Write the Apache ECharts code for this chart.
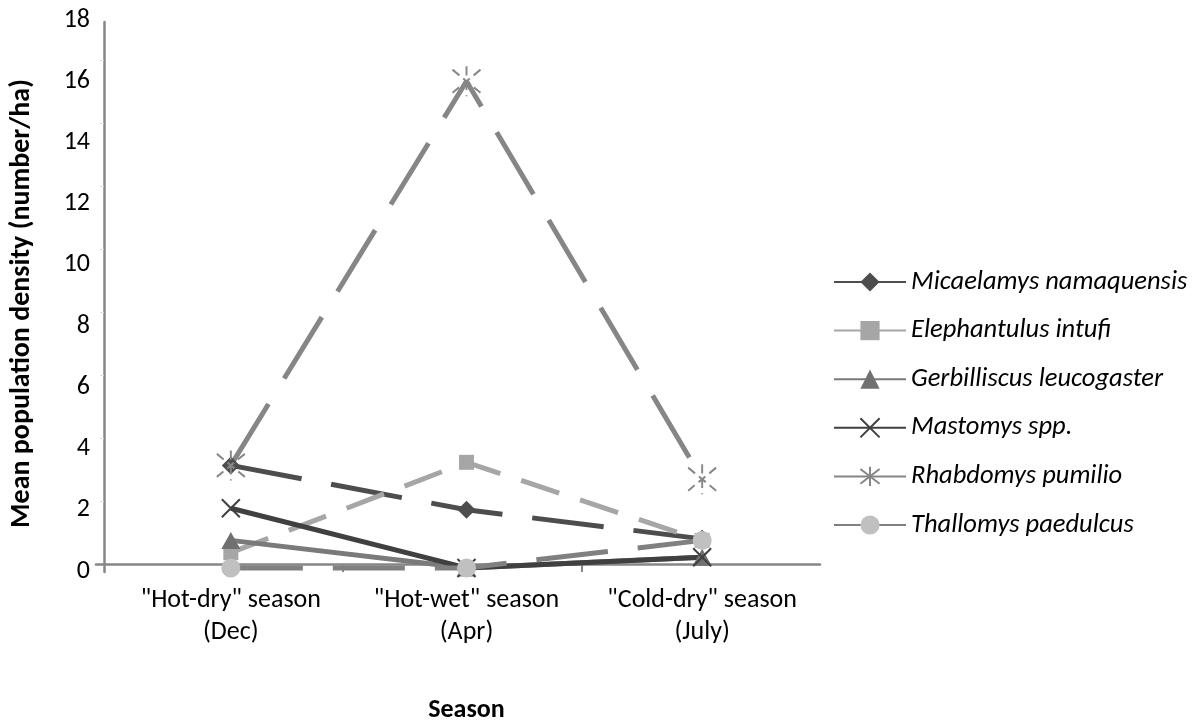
<!DOCTYPE html>
<html>
<head>
<meta charset="utf-8">
<script src="https://cdn.jsdelivr.net/npm/echarts@6/dist/echarts.min.js"></script>
<style>
  html, body { margin: 0; padding: 0; background: #ffffff; }
  #chart { width: 1201px; height: 728px; }
</style>
</head>
<body>
<div id="chart"></div>
<script>
// Seasons sampled (category axis)
const seasons = ['"Hot-dry" season\n(Dec)', '"Hot-wet" season\n(Apr)', '"Cold-dry" season\n(July)'];

// Mean population density (number/ha) per species and season
const micaelamys   = [3.45, 2.0, 1.05];
const elephantulus = [0.6, 3.55, 1.0];
const gerbilliscus = [1.0, 0.1, 0.45];
const mastomys     = [2.05, 0.1, 0.45];
const rhabdomys    = [3.45, 16.0, 3.0];
const thallomys    = [0.1, 0.1, 1.0];

const speciesNames = [
  'Micaelamys namaquensis',
  'Elephantulus intufi',
  'Gerbilliscus leucogaster',
  'Mastomys spp.',
  'Rhabdomys pumilio',
  'Thallomys paedulcus'
];

// Value axis range
const yMin = 0, yMax = 18, yStep = 2;

const FONT = 'Carlito, Calibri, Lato, "Open Sans", sans-serif';
const AXIS_GREY = '#868686';

const crossMark = 'path://M0,0L10,10M10,0L0,10';
const starMark  = 'path://M0,0L10,10M10,0L0,10M5,-1.5L5,11.5';

function lineSeries(name, data, opt) {
  return {
    name: name,
    type: 'line',
    xAxisIndex: 0,
    yAxisIndex: 0,
    data: data,
    symbol: opt.symbol,
    symbolSize: opt.size,
    showAllSymbol: true,
    lineStyle: { color: opt.line, width: 5, type: opt.dash || 'solid', cap: 'butt' },
    itemStyle: opt.item,
    emphasis: { disabled: true },
    animation: false
  };
}

const series = [
  lineSeries(speciesNames[0], micaelamys, {
    symbol: 'diamond', size: 18, line: '#4d4d4d', dash: [72, 30],
    item: { color: '#4d4d4d' }
  }),
  lineSeries(speciesNames[1], elephantulus, {
    symbol: 'rect', size: 15, line: '#a6a6a6', dash: [40, 22],
    item: { color: '#a6a6a6' }
  }),
  lineSeries(speciesNames[2], gerbilliscus, {
    symbol: 'triangle', size: [19, 17], line: '#7a7a7a',
    item: { color: '#707070' }
  }),
  lineSeries(speciesNames[3], mastomys, {
    symbol: crossMark, size: 18, line: '#404040',
    item: { color: 'rgba(0,0,0,0)', borderColor: '#404040', borderWidth: 2 }
  }),
  lineSeries(speciesNames[4], rhabdomys, {
    symbol: starMark, size: [28, 30], line: '#868686', dash: [72, 30],
    item: { color: 'rgba(0,0,0,0)', borderColor: '#868686', borderWidth: 2, borderType: [9, 5] }
  }),
  lineSeries(speciesNames[5], thallomys, {
    symbol: 'circle', size: 19, line: '#808080', dash: [72, 30],
    item: { color: '#c0c0c0' }
  })
];

// Legend entries: solid keys except the dashed Rhabdomys key
const legendData = speciesNames.map(function (n, i) {
  return i === 4 ? { name: n } : { name: n, lineStyle: { type: 'solid' } };
});

const chart = echarts.init(document.getElementById('chart'), null, { renderer: 'canvas' });

chart.setOption({
  backgroundColor: '#ffffff',
  animation: false,
  textStyle: { fontFamily: FONT },
  grid: [
    // plotting grid (data + tick labels)
    { left: 103, right: 381, top: 20, bottom: 143, containLabel: false },
    // frame grid for the drawn axis lines (units are pixels)
    { left: 96, right: 381, top: 22, bottom: 156, containLabel: false }
  ],
  xAxis: [
    {
      type: 'category', gridIndex: 0, data: seasons, boundaryGap: true,
      axisLine: { show: false }, axisTick: { show: false }, splitLine: { show: false },
      axisLabel: { color: '#000', fontSize: 26, lineHeight: 32, margin: 13, interval: 0, hideOverlap: false, fontFamily: FONT },
      name: 'Season', nameLocation: 'middle', nameGap: 126,
      nameTextStyle: { color: '#000', fontSize: 26, fontWeight: 'bold', fontFamily: FONT }
    },
    {
      type: 'value', gridIndex: 1, min: -8, max: 716,
      axisLine: { show: true, onZero: true, lineStyle: { color: AXIS_GREY, width: 2.5 } },
      axisTick: { show: true, length: 8, customValues: [239, 478], lineStyle: { color: AXIS_GREY, width: 2 } },
      axisLabel: { show: false }, splitLine: { show: false }
    }
  ],
  yAxis: [
    {
      type: 'value', gridIndex: 0, min: yMin, max: yMax, interval: yStep,
      axisLine: { show: false }, axisTick: { show: false }, splitLine: { show: false },
      axisLabel: { color: '#000', fontSize: 26, margin: 23, fontFamily: FONT },
      name: 'Mean population density (number/ha)', nameLocation: 'middle', nameGap: 77, nameRotate: 90,
      nameTextStyle: { color: '#000', fontSize: 28, fontWeight: 'bold', fontFamily: FONT, padding: [0, 16, 0, 0] }
    },
    {
      type: 'value', gridIndex: 1, min: -8, max: 542,
      axisLine: { show: true, onZero: true, lineStyle: { color: AXIS_GREY, width: 2.5 } },
      axisTick: { show: true, length: 4, customValues: [63, 126, 189, 252, 315, 378, 441, 504], lineStyle: { color: '#dcdcdc', width: 1 } },
      axisLabel: { show: false }, splitLine: { show: false }
    }
  ],
  legend: {
    orient: 'vertical',
    left: 828,
    top: 263,
    itemWidth: 72,
    itemHeight: 24,
    itemGap: 20.6,
    data: legendData,
    selectedMode: false,
    textStyle: { color: '#000', fontSize: 26.5, fontStyle: 'italic', lineHeight: 28, fontFamily: FONT }
  },
  series: series
});
</script>
</body>
</html>
